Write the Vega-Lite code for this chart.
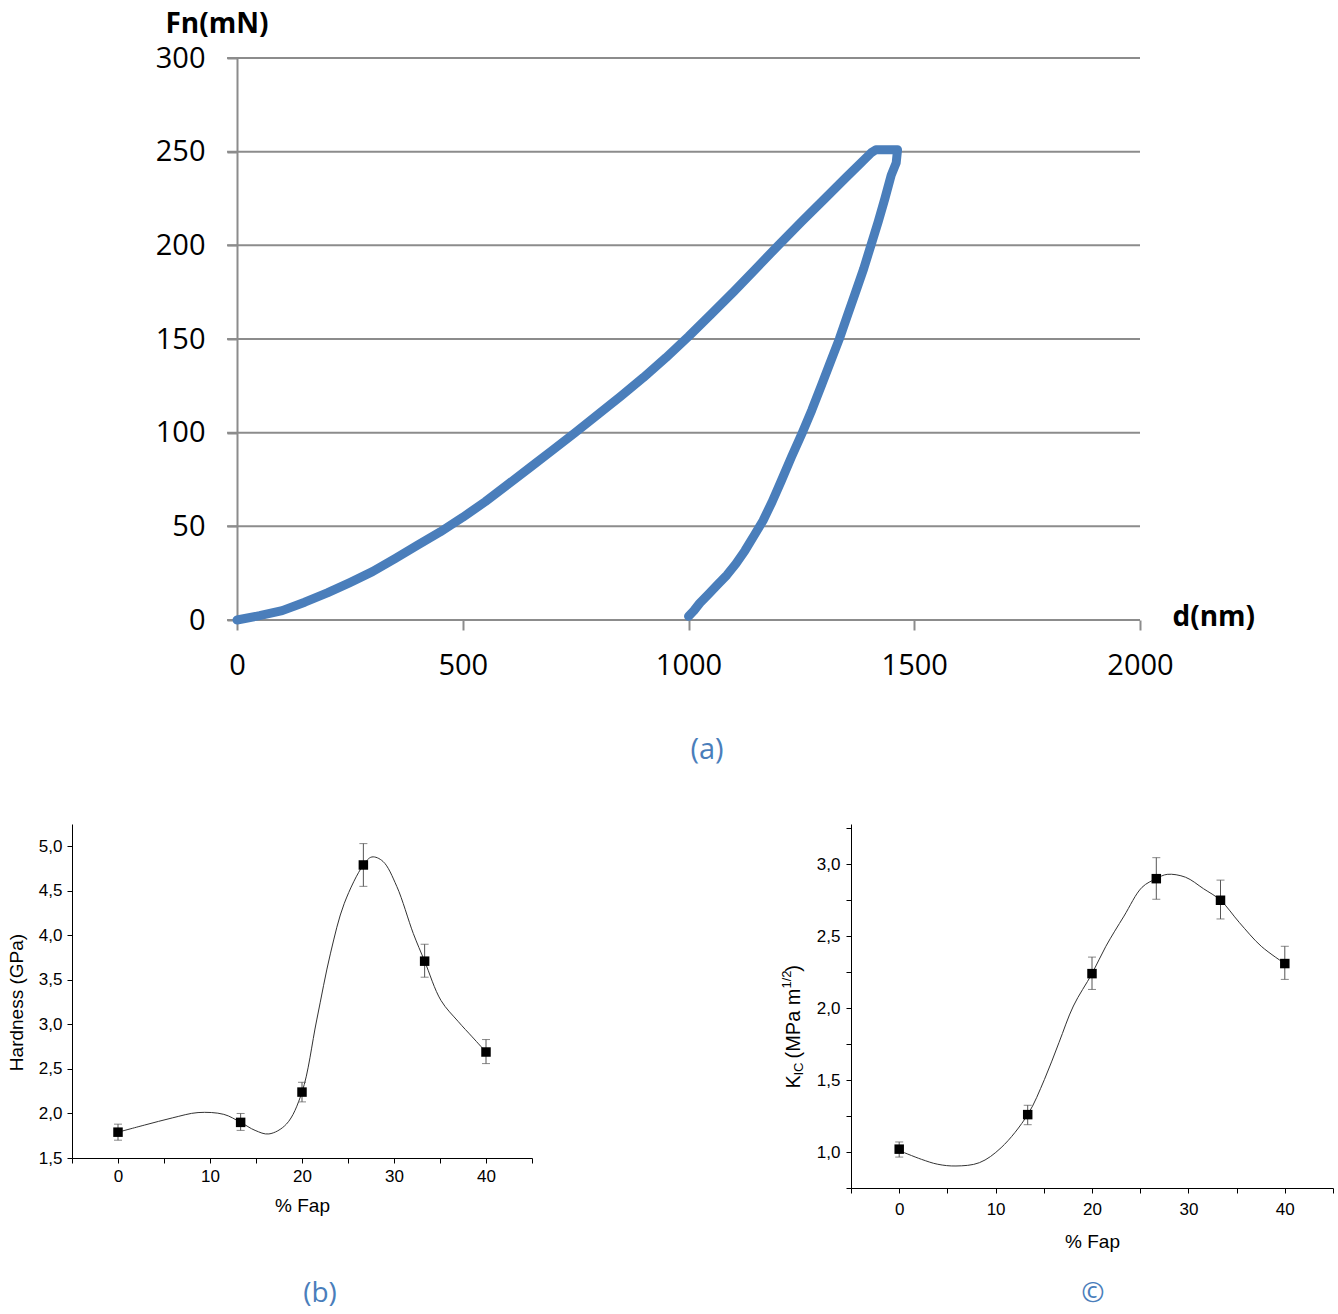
{
  "$schema": "https://vega.github.io/schema/vega-lite/v6.json",
  "background": "white",
  "padding": {"left": 7, "top": 10, "right": 0, "bottom": 4},
  "config": {"view": {"stroke": null}, "font": "Liberation Sans", "axis": {"grid": false}},
  "spacing": 54,
  "vconcat": [
    {
      "width": 1068,
      "height": 562,
      "title": {"text": "(a)", "orient": "bottom", "anchor": "middle", "frame": "group", "dx": 101, "offset": 56, "font": "Open Sans", "fontSize": 29, "fontWeight": "normal", "color": "#4A7EBB"},
      "layer": [
        {
          "data": {"values": [{"F": 0}, {"F": 50}, {"F": 100}, {"F": 150}, {"F": 200}, {"F": 250}, {"F": 300}]},
          "mark": {"type": "rule", "color": "#8C8C8C", "strokeWidth": 2},
          "encoding": {
            "y": {"field": "F", "type": "quantitative"},
            "x": {"datum": -22, "type": "quantitative"},
            "x2": {"datum": 2000}
          }
        },
        {
          "data": {"values": [
            {"i": 0, "d": 0, "F": 0}, {"i": 1, "d": 50, "F": 2.3}, {"i": 2, "d": 100, "F": 5}, {"i": 3, "d": 150, "F": 9.5},
            {"i": 4, "d": 200, "F": 14.5}, {"i": 5, "d": 250, "F": 20}, {"i": 6, "d": 300, "F": 25.8}, {"i": 7, "d": 350, "F": 32.8},
            {"i": 8, "d": 400, "F": 40}, {"i": 9, "d": 450, "F": 47}, {"i": 10, "d": 500, "F": 54.8}, {"i": 11, "d": 550, "F": 63.2},
            {"i": 12, "d": 600, "F": 72.4}, {"i": 13, "d": 650, "F": 81.6}, {"i": 14, "d": 700, "F": 90.9}, {"i": 15, "d": 750, "F": 100.2},
            {"i": 16, "d": 800, "F": 109.8}, {"i": 17, "d": 850, "F": 119.5}, {"i": 18, "d": 900, "F": 129.4}, {"i": 19, "d": 950, "F": 140},
            {"i": 20, "d": 1000, "F": 151.3}, {"i": 21, "d": 1050, "F": 163.2}, {"i": 22, "d": 1100, "F": 175.2}, {"i": 23, "d": 1150, "F": 187.7},
            {"i": 24, "d": 1200, "F": 200.3}, {"i": 25, "d": 1250, "F": 212.5}, {"i": 26, "d": 1300, "F": 224.5}, {"i": 27, "d": 1350, "F": 236.5},
            {"i": 28, "d": 1380, "F": 243.5}, {"i": 29, "d": 1405, "F": 249.5}, {"i": 30, "d": 1415, "F": 251}, {"i": 31, "d": 1440, "F": 251},
            {"i": 32, "d": 1463, "F": 251}, {"i": 33, "d": 1460, "F": 244}, {"i": 34, "d": 1449, "F": 237.5}, {"i": 35, "d": 1435, "F": 225},
            {"i": 36, "d": 1420, "F": 212.5}, {"i": 37, "d": 1404, "F": 200}, {"i": 38, "d": 1388, "F": 187.5}, {"i": 39, "d": 1370, "F": 175},
            {"i": 40, "d": 1352, "F": 162.5}, {"i": 41, "d": 1334, "F": 150}, {"i": 42, "d": 1314, "F": 137.5}, {"i": 43, "d": 1294, "F": 125},
            {"i": 44, "d": 1273, "F": 112}, {"i": 45, "d": 1252, "F": 100}, {"i": 46, "d": 1228, "F": 87}, {"i": 47, "d": 1205, "F": 74},
            {"i": 48, "d": 1185, "F": 63}, {"i": 49, "d": 1165, "F": 53}, {"i": 50, "d": 1145, "F": 45}, {"i": 51, "d": 1125, "F": 37},
            {"i": 52, "d": 1105, "F": 30}, {"i": 53, "d": 1085, "F": 24}, {"i": 54, "d": 1065, "F": 19}, {"i": 55, "d": 1045, "F": 14},
            {"i": 56, "d": 1025, "F": 9}, {"i": 57, "d": 1012, "F": 5}, {"i": 58, "d": 1000, "F": 2}
          ]},
          "mark": {"type": "line", "color": "#4A7EBB", "strokeWidth": 9, "strokeJoin": "round", "strokeCap": "round"},
          "encoding": {
            "order": {"field": "i", "type": "quantitative"},
            "x": {
              "field": "d", "type": "quantitative",
              "scale": {"domain": [-365.45, 2000], "nice": false, "zero": false},
              "axis": {
                "orient": "bottom", "values": [0, 500, 1000, 1500, 2000], "format": "d", "domain": false, "grid": false,
                "ticks": true, "tickSize": 10, "tickColor": "#8C8C8C", "tickWidth": 2,
                "labelFont": "Open Sans", "labelFontSize": 29, "labelColor": "#000000", "labelPadding": 21,
                "labelFlush": false, "labelOverlap": false,
                "title": "d(nm)", "titleFont": "Open Sans", "titleFontSize": 28, "titleFontWeight": "bold", "titleColor": "#000000",
                "titleAlign": "left", "titleBaseline": "middle", "titleAngle": 0, "titleX": 1100, "titleY": -3
              }
            },
            "y": {
              "field": "F", "type": "quantitative",
              "scale": {"domain": [0, 300], "nice": false, "zero": false},
              "axis": {
                "orient": "left", "offset": -165, "values": [0, 50, 100, 150, 200, 250, 300], "grid": false,
                "domain": true, "domainColor": "#8C8C8C", "domainWidth": 2,
                "ticks": true, "tickSize": 10, "tickColor": "#8C8C8C", "tickWidth": 2,
                "labelFont": "Open Sans", "labelFontSize": 29, "labelColor": "#000000", "labelPadding": 22, "labelOverlap": false,
                "title": "Fn(mN)", "titleFont": "Open Sans", "titleFontSize": 28, "titleFontWeight": "bold", "titleColor": "#000000",
                "titleAngle": 0, "titleAlign": "left", "titleBaseline": "middle", "titleX": -72, "titleY": -34
              }
            }
          }
        }
      ]
    },
    {
      "spacing": 247,
      "hconcat": [
        {
          "width": 460,
          "height": 334,
          "title": {"text": "(b)", "orient": "bottom", "anchor": "middle", "frame": "group", "dx": 18, "offset": 65, "font": "Open Sans", "fontSize": 28, "fontWeight": "normal", "color": "#4A7EBB"},
          "layer": [
            {
              "data": {"values": [
                {"x": 0, "y": 1.79}, {"x": 2.9, "y": 1.87}, {"x": 5.9, "y": 1.95}, {"x": 8.7, "y": 2.01}, {"x": 11.5, "y": 1.99},
                {"x": 13.33, "y": 1.9}, {"x": 14.9, "y": 1.81}, {"x": 16.4, "y": 1.77}, {"x": 18.3, "y": 1.88}, {"x": 20, "y": 2.24},
                {"x": 21.6, "y": 3.05}, {"x": 23.1, "y": 3.8}, {"x": 24.6, "y": 4.36}, {"x": 26.67, "y": 4.79}, {"x": 27.6, "y": 4.88},
                {"x": 28.8, "y": 4.83}, {"x": 30.3, "y": 4.55}, {"x": 32.1, "y": 4.02}, {"x": 33.33, "y": 3.71}, {"x": 35.1, "y": 3.27},
                {"x": 37.0, "y": 3.03}, {"x": 38.5, "y": 2.86}, {"x": 40, "y": 2.69}
              ]},
              "mark": {"type": "line", "interpolate": "catmull-rom", "color": "#333333", "strokeWidth": 1},
              "encoding": {
                "x": {
                  "field": "x", "type": "quantitative",
                  "scale": {"domain": [-5, 45], "nice": false, "zero": false},
                  "axis": {
                    "orient": "bottom", "values": [-5, 0, 5, 10, 15, 20, 25, 30, 35, 40, 45],
                    "labelExpr": "datum.value % 10 === 0 ? datum.label : ''",
                    "domain": true, "domainColor": "#000000", "domainWidth": 1,
                    "ticks": true, "tickColor": "#000000", "tickSize": 5, "tickWidth": 1, "grid": false,
                    "labelFont": "Liberation Sans", "labelFontSize": 17, "labelColor": "#000000", "labelPadding": 5,
                    "labelFlush": false, "labelOverlap": false,
                    "title": "% Fap", "titleFont": "Liberation Sans", "titleFontSize": 19, "titleFontWeight": "normal", "titleColor": "#000000", "titlePadding": 12
                  }
                },
                "y": {
                  "field": "y", "type": "quantitative",
                  "scale": {"domain": [1.5, 5.25], "nice": false, "zero": false},
                  "axis": {
                    "orient": "left", "values": [1.5, 1.75, 2, 2.25, 2.5, 2.75, 3, 3.25, 3.5, 3.75, 4, 4.25, 4.5, 4.75, 5, 5.25],
                    "labelExpr": "(datum.value * 2) % 1 === 0 ? replace(format(datum.value, '.1f'), '.', ',') : ''",
                    "domain": true, "domainColor": "#000000", "domainWidth": 1,
                    "ticks": true, "tickColor": "#000000", "tickSize": 5, "tickWidth": 1, "grid": false,
                    "labelFont": "Liberation Sans", "labelFontSize": 17, "labelColor": "#000000", "labelPadding": 5, "labelOverlap": false,
                    "title": "Hardness (GPa)", "titleFont": "Liberation Sans", "titleFontSize": 19, "titleFontWeight": "normal", "titleColor": "#000000",
                    "titlePadding": 12, "titleY": 178
                  }
                }
              }
            },
            {
              "data": {"values": [
                {"x": 0, "y": 1.79, "lo": 1.70, "hi": 1.88}, {"x": 13.33, "y": 1.90, "lo": 1.81, "hi": 2.00},
                {"x": 20, "y": 2.24, "lo": 2.13, "hi": 2.35}, {"x": 26.67, "y": 4.79, "lo": 4.55, "hi": 5.03},
                {"x": 33.33, "y": 3.71, "lo": 3.53, "hi": 3.90}, {"x": 40, "y": 2.69, "lo": 2.56, "hi": 2.83}
              ]},
              "layer": [
                {
                  "mark": {"type": "rule", "color": "#555555", "strokeWidth": 1},
                  "encoding": {"x": {"field": "x", "type": "quantitative"}, "y": {"field": "lo", "type": "quantitative"}, "y2": {"field": "hi"}}
                },
                {
                  "mark": {"type": "tick", "orient": "horizontal", "size": 8, "thickness": 1, "color": "#555555"},
                  "encoding": {"x": {"field": "x", "type": "quantitative"}, "y": {"field": "lo", "type": "quantitative"}}
                },
                {
                  "mark": {"type": "tick", "orient": "horizontal", "size": 8, "thickness": 1, "color": "#555555"},
                  "encoding": {"x": {"field": "x", "type": "quantitative"}, "y": {"field": "hi", "type": "quantitative"}}
                },
                {
                  "mark": {"type": "point", "shape": "square", "filled": true, "size": 90, "color": "#000000", "opacity": 1},
                  "encoding": {"x": {"field": "x", "type": "quantitative"}, "y": {"field": "y", "type": "quantitative"}}
                }
              ]
            }
          ]
        },
        {
          "width": 482,
          "height": 364,
          "title": {"text": "©", "orient": "bottom", "anchor": "middle", "frame": "group", "dx": 1, "offset": 29, "font": "Open Sans", "fontSize": 28, "fontWeight": "normal", "color": "#4A7EBB"},
          "resolve": {"scale": {"x": "independent", "y": "independent"}},
          "layer": [
            {
              "data": {"values": [
                {"x": 0, "y": 1.01}, {"x": 2.32, "y": 0.949}, {"x": 4.0, "y": 0.915}, {"x": 5.89, "y": 0.903}, {"x": 8.32, "y": 0.926},
                {"x": 10.57, "y": 1.03}, {"x": 13.33, "y": 1.26}, {"x": 15.07, "y": 1.505}, {"x": 16.57, "y": 1.76}, {"x": 18.07, "y": 2.015},
                {"x": 20, "y": 2.24}, {"x": 21.44, "y": 2.43}, {"x": 23.32, "y": 2.64}, {"x": 25.19, "y": 2.84}, {"x": 26.67, "y": 2.9},
                {"x": 27.8, "y": 2.93}, {"x": 29.7, "y": 2.91}, {"x": 31.57, "y": 2.83}, {"x": 33.33, "y": 2.75}, {"x": 35.3, "y": 2.594},
                {"x": 37.56, "y": 2.43}, {"x": 40, "y": 2.31}
              ]},
              "mark": {"type": "line", "interpolate": "catmull-rom", "color": "#333333", "strokeWidth": 1},
              "encoding": {
                "x": {
                  "field": "x", "type": "quantitative",
                  "scale": {"domain": [-5, 45], "nice": false, "zero": false},
                  "axis": {
                    "orient": "bottom", "values": [-5, 0, 5, 10, 15, 20, 25, 30, 35, 40, 45],
                    "labelExpr": "datum.value % 10 === 0 ? datum.label : ''",
                    "domain": true, "domainColor": "#000000", "domainWidth": 1,
                    "ticks": true, "tickColor": "#000000", "tickSize": 5, "tickWidth": 1, "grid": false,
                    "labelFont": "Liberation Sans", "labelFontSize": 17, "labelColor": "#000000", "labelPadding": 8,
                    "labelFlush": false, "labelOverlap": false,
                    "title": "% Fap", "titleFont": "Liberation Sans", "titleFontSize": 19, "titleFontWeight": "normal", "titleColor": "#000000", "titlePadding": 15
                  }
                },
                "y": {
                  "field": "y", "type": "quantitative",
                  "scale": {"domain": [0.75, 3.28], "nice": false, "zero": false},
                  "axis": {
                    "orient": "left", "values": [0.75, 1, 1.25, 1.5, 1.75, 2, 2.25, 2.5, 2.75, 3, 3.25],
                    "labelExpr": "(datum.value * 2) % 1 === 0 ? replace(format(datum.value, '.1f'), '.', ',') : ''",
                    "domain": true, "domainColor": "#000000", "domainWidth": 1,
                    "ticks": true, "tickColor": "#000000", "tickSize": 5, "tickWidth": 1, "grid": false,
                    "labelFont": "Liberation Sans", "labelFontSize": 17, "labelColor": "#000000", "labelPadding": 6, "labelOverlap": false,
                    "title": "K\u00a0\u00a0\u00a0(MPa m\u00a0\u00a0\u00a0)", "titleFont": "Liberation Sans", "titleFontSize": 20, "titleFontWeight": "normal", "titleColor": "#000000",
                    "titleAngle": 270, "titleAlign": "left", "titleBaseline": "middle", "titleX": -58, "titleY": 264
                  }
                }
              }
            },
            {
              "data": {"values": [
                {"x": 0, "lo": 0.965, "hi": 1.07}, {"x": 13.33, "lo": 1.19, "hi": 1.325},
                {"x": 20, "lo": 2.13, "hi": 2.355}, {"x": 26.67, "lo": 2.757, "hi": 3.046},
                {"x": 33.33, "lo": 2.62, "hi": 2.89}, {"x": 40, "lo": 2.20, "hi": 2.43}
              ]},
              "mark": {"type": "rule", "color": "#555555", "strokeWidth": 1},
              "encoding": {
                "x": {"field": "x", "type": "quantitative", "scale": {"domain": [-5, 45], "nice": false, "zero": false}, "axis": null},
                "y": {"field": "lo", "type": "quantitative", "scale": {"domain": [0.75, 3.28], "nice": false, "zero": false}, "axis": null},
                "y2": {"field": "hi"}
              }
            },
            {
              "data": {"values": [
                {"x": 0, "lo": 0.965}, {"x": 13.33, "lo": 1.19}, {"x": 20, "lo": 2.13},
                {"x": 26.67, "lo": 2.757}, {"x": 33.33, "lo": 2.62}, {"x": 40, "lo": 2.20}
              ]},
              "mark": {"type": "tick", "orient": "horizontal", "size": 8, "thickness": 1, "color": "#555555"},
              "encoding": {
                "x": {"field": "x", "type": "quantitative", "scale": {"domain": [-5, 45], "nice": false, "zero": false}, "axis": null},
                "y": {"field": "lo", "type": "quantitative", "scale": {"domain": [0.75, 3.28], "nice": false, "zero": false}, "axis": null}
              }
            },
            {
              "data": {"values": [
                {"x": 0, "hi": 1.07}, {"x": 13.33, "hi": 1.325}, {"x": 20, "hi": 2.355},
                {"x": 26.67, "hi": 3.046}, {"x": 33.33, "hi": 2.89}, {"x": 40, "hi": 2.43}
              ]},
              "mark": {"type": "tick", "orient": "horizontal", "size": 8, "thickness": 1, "color": "#555555"},
              "encoding": {
                "x": {"field": "x", "type": "quantitative", "scale": {"domain": [-5, 45], "nice": false, "zero": false}, "axis": null},
                "y": {"field": "hi", "type": "quantitative", "scale": {"domain": [0.75, 3.28], "nice": false, "zero": false}, "axis": null}
              }
            },
            {
              "data": {"values": [
                {"x": 0, "y": 1.02}, {"x": 13.33, "y": 1.26}, {"x": 20, "y": 2.24},
                {"x": 26.67, "y": 2.90}, {"x": 33.33, "y": 2.75}, {"x": 40, "y": 2.31}
              ]},
              "mark": {"type": "point", "shape": "square", "filled": true, "size": 90, "color": "#000000", "opacity": 1},
              "encoding": {
                "x": {
                  "field": "x", "type": "quantitative",
                  "scale": {"domain": [-5, 45], "nice": false, "zero": false},
                  "axis": {
                    "orient": "top", "domain": false, "ticks": false, "labels": false, "grid": false,
                    "title": "IC", "titleFont": "Liberation Sans", "titleFontSize": 13, "titleFontWeight": "normal", "titleColor": "#000000",
                    "titleAngle": 270, "titleAlign": "left", "titleBaseline": "middle", "titleX": -53, "titleY": 251
                  }
                },
                "y": {
                  "field": "y", "type": "quantitative",
                  "scale": {"domain": [0.75, 3.28], "nice": false, "zero": false},
                  "axis": {
                    "orient": "right", "domain": false, "ticks": false, "labels": false, "grid": false,
                    "title": "1/2", "titleFont": "Liberation Sans", "titleFontSize": 13, "titleFontWeight": "normal", "titleColor": "#000000",
                    "titleAngle": 270, "titleAlign": "left", "titleBaseline": "middle", "titleX": -547, "titleY": 164
                  }
                }
              }
            }
          ]
        }
      ]
    }
  ]
}
